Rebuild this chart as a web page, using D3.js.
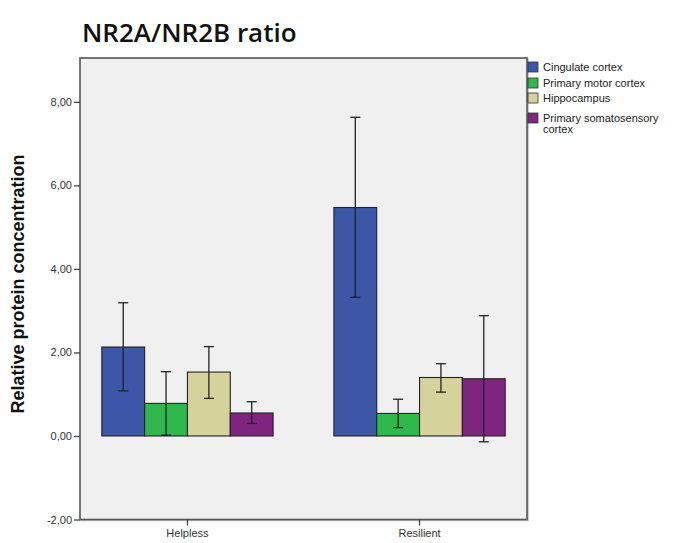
<!DOCTYPE html>
<html>
<head>
<meta charset="utf-8">
<script src="https://cdn.jsdelivr.net/npm/d3@7"></script>
<style>
  html, body { margin: 0; padding: 0; background: #ffffff; }
  svg { display: block; }
</style>
</head>
<body>
<svg id="chart" width="683" height="543"></svg>
<script>
// Groups along the x axis and the regions measured in each
const groups = ["Helpless", "Resilient"];
const regions = ["Cingulate cortex", "Primary motor cortex", "Hippocampus", "Primary somatosensory cortex"];
const regionColors = ["#3d57a8", "#2fb84b", "#d6d29b", "#7f2581"];

// Mean ratio per group, one array per region (same order as regions)
const cingulate = [2.13, 5.47];
const motor = [0.78, 0.54];
const hippocampus = [1.53, 1.40];
const somatosensory = [0.55, 1.37];

// Error bar limits (lower / upper)
const cingulateLow = [1.08, 3.32];
const cingulateHigh = [3.19, 7.63];
const motorLow = [0.02, 0.20];
const motorHigh = [1.54, 0.88];
const hippocampusLow = [0.90, 1.05];
const hippocampusHigh = [2.14, 1.73];
const somatosensoryLow = [0.30, -0.14];
const somatosensoryHigh = [0.82, 2.88];

const yTicks = [-2, 0, 2, 4, 6, 8];

const means = [cingulate, motor, hippocampus, somatosensory];
const lows = [cingulateLow, motorLow, hippocampusLow, somatosensoryLow];
const highs = [cingulateHigh, motorHigh, hippocampusHigh, somatosensoryHigh];

const rows = [];
groups.forEach((g, gi) => {
  regions.forEach((r, ri) => {
    rows.push({ group: g, region: r, ri: ri, value: means[ri][gi], low: lows[ri][gi], high: highs[ri][gi] });
  });
});

const svg = d3.select("#chart");
const plot = { left: 80, right: 527, top: 58, bottom: 519.5 };

const x = d3.scaleBand().domain(groups).range([plot.left, plot.right])
  .paddingInner(0.262).paddingOuter(0.094);
const xInner = d3.scaleBand().domain(regions).range([0, x.bandwidth()]);
const y = d3.scaleLinear().domain([-2, 9.05]).range([plot.bottom, plot.top]);

// Title
svg.append("text")
  .attr("x", 82).attr("y", 42)
  .attr("font-family", "'Open Sans', sans-serif")
  .attr("font-weight", 600)
  .attr("font-size", 26)
  .attr("fill", "#111")
  .text("NR2A/NR2B ratio");

// Plot area background and frame
svg.append("rect")
  .attr("x", plot.left + 1).attr("y", plot.top + 1)
  .attr("width", plot.right - plot.left).attr("height", plot.bottom - plot.top)
  .attr("fill", "none").attr("stroke", "#bbbbbb").attr("stroke-width", 1.5);
svg.append("rect")
  .attr("x", plot.left).attr("y", plot.top)
  .attr("width", plot.right - plot.left).attr("height", plot.bottom - plot.top)
  .attr("fill", "#f0f0f0").attr("stroke", "#555555").attr("stroke-width", 1.6);

// Bars
const barG = svg.append("g");
barG.selectAll("rect.bar").data(rows).enter().append("rect")
  .attr("class", "bar")
  .attr("x", d => x(d.group) + xInner(d.region))
  .attr("width", xInner.bandwidth())
  .attr("y", d => y(Math.max(0, d.value)))
  .attr("height", d => Math.abs(y(d.value) - y(0)))
  .attr("fill", d => regionColors[d.ri])
  .attr("stroke", "#222").attr("stroke-width", 1.1);

// Error bars
const errG = svg.append("g").attr("stroke", "#222").attr("stroke-width", 1.3);
const cx = d => x(d.group) + xInner(d.region) + xInner.bandwidth() / 2;
errG.selectAll("line.v").data(rows).enter().append("line")
  .attr("x1", cx).attr("x2", cx)
  .attr("y1", d => y(d.low)).attr("y2", d => y(d.high));
errG.selectAll("line.t").data(rows).enter().append("line")
  .attr("x1", d => cx(d) - 5).attr("x2", d => cx(d) + 5)
  .attr("y1", d => y(d.high)).attr("y2", d => y(d.high));
errG.selectAll("line.b").data(rows).enter().append("line")
  .attr("x1", d => cx(d) - 5).attr("x2", d => cx(d) + 5)
  .attr("y1", d => y(d.low)).attr("y2", d => y(d.low));

// Axes (comma decimal separator, plain hyphen for negatives)
const fmt = v => d3.format(".2f")(v).replace(".", ",").replace("\u2212", "-");
const yAxis = svg.append("g")
  .attr("transform", `translate(${plot.left},0)`)
  .call(d3.axisLeft(y).tickValues(yTicks).tickFormat(fmt).tickSize(6).tickPadding(2));
yAxis.select(".domain").remove();
yAxis.selectAll("line").attr("stroke", "#444").attr("stroke-width", 1.3);
yAxis.selectAll("text").attr("font-family", "Arial, 'Liberation Sans', sans-serif")
  .attr("font-size", 11).attr("fill", "#333");

const xAxis = svg.append("g")
  .attr("transform", `translate(0,${plot.bottom})`)
  .call(d3.axisBottom(x).tickSize(6).tickPadding(4));
xAxis.select(".domain").remove();
xAxis.selectAll("line").attr("stroke", "#444").attr("stroke-width", 1.3);
xAxis.selectAll("text").attr("font-family", "Arial, 'Liberation Sans', sans-serif")
  .attr("font-size", 11).attr("fill", "#333");

// Y axis title
svg.append("text")
  .attr("transform", `translate(24,${284}) rotate(-90)`)
  .attr("text-anchor", "middle")
  .attr("font-family", "Arial, 'Liberation Sans', sans-serif")
  .attr("font-weight", "bold")
  .attr("font-size", 18)
  .attr("fill", "#111")
  .text("Relative protein concentration");

// Legend
const legendLines = [["Cingulate cortex"], ["Primary motor cortex"], ["Hippocampus"], ["Primary somatosensory", "cortex"]];
const legendTop = [62, 78, 93, 113];
const legend = svg.append("g");
regions.forEach((r, i) => {
  legend.append("rect")
    .attr("x", 528).attr("y", legendTop[i])
    .attr("width", 10).attr("height", 10)
    .attr("fill", regionColors[i]).attr("stroke", "#333").attr("stroke-width", 0.8);
  const t = legend.append("text")
    .attr("x", 543).attr("y", legendTop[i] + 8.5)
    .attr("font-family", "Arial, 'Liberation Sans', sans-serif")
    .attr("font-size", 11).attr("fill", "#222");
  legendLines[i].forEach((line, li) => {
    t.append("tspan").attr("x", 543).attr("dy", li === 0 ? 0 : 11).text(line);
  });
});
</script>
</body>
</html>
